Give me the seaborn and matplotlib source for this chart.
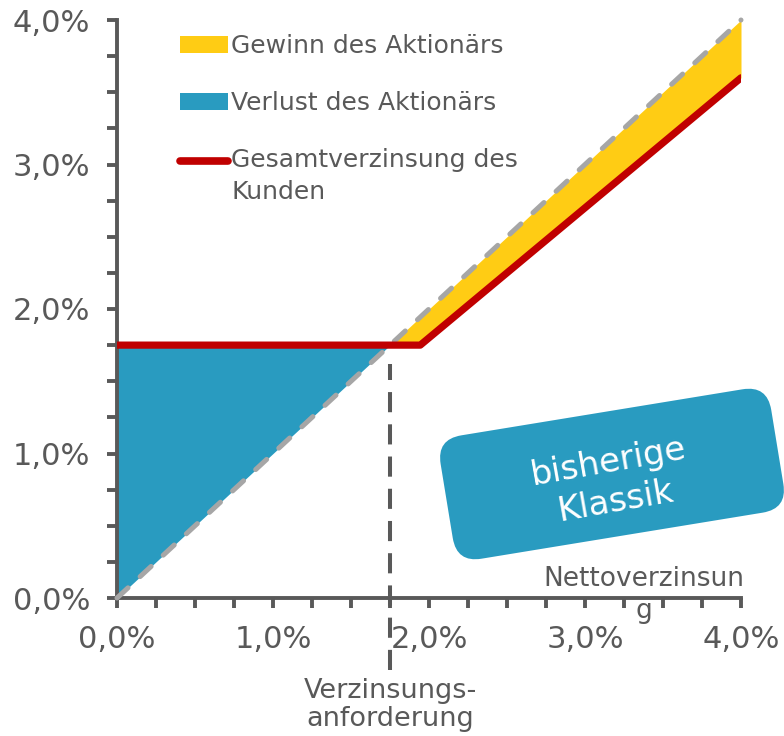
import matplotlib
matplotlib.use("Agg")
import matplotlib.pyplot as plt
import seaborn as sns
import pandas as pd
from matplotlib.patches import Patch, FancyBboxPatch
from matplotlib.lines import Line2D
from matplotlib.transforms import Affine2D
from matplotlib.ticker import MultipleLocator, FixedLocator

# ---- data (in %) ----
netto = [0.0, 1.75, 1.944, 4.0]          # Nettoverzinsung
kunde = [1.75, 1.75, 1.75, 3.6]          # Gesamtverzinsung des Kunden
anforderung = 1.75                        # Verzinsungsanforderung
tick_vals = [0, 1, 2, 3, 4]
tick_labels = ["0,0%", "1,0%", "2,0%", "3,0%", "4,0%"]
legend_labels = ["Gewinn des Aktionärs", "Verlust des Aktionärs", "Gesamtverzinsung des\nKunden"]

YELLOW = "#FFCC14"
BLUE = "#299BC0"
RED = "#C00000"
GRAY = "#A6A6A6"
TXT = "#595959"

sns.set_theme(style="white")
plt.rcParams["font.family"] = ["DejaVu Sans"]

df = pd.DataFrame({"netto": netto, "kunde": kunde})

fig = plt.figure(figsize=(7.84, 7.36), dpi=100)
ax = fig.add_axes([117 / 784, 138 / 736, 624 / 784, 578 / 736])

# fills
ax.fill_between(netto[:2], netto[:2], kunde[:2], color=BLUE, lw=0, zorder=1)
ax.fill_between(netto[1:], kunde[1:], netto[1:], color=YELLOW, lw=0, zorder=1)

# diagonal (Nettoverzinsung itself)
sns.lineplot(data=df, x="netto", y="netto", ax=ax, color=GRAY, linewidth=3.6,
             linestyle=(0, (3.0, 3.3)), solid_capstyle="round", dash_capstyle="round",
             zorder=3, clip_on=False)
# customer line
sns.lineplot(data=df, x="netto", y="kunde", ax=ax, color=RED, linewidth=5.2,
             solid_capstyle="round", zorder=4)

# requirement line
ax.axvline(anforderung, ymin=-0.125, ymax=0.405, color=TXT, lw=2.9,
           linestyle=(0, (5, 3)), clip_on=False, zorder=5)

ax.set_xlim(0, 4)
ax.set_ylim(0, 4)
ax.xaxis.set_major_locator(FixedLocator(tick_vals))
ax.yaxis.set_major_locator(FixedLocator(tick_vals))
ax.set_xticklabels(tick_labels)
ax.set_yticklabels(tick_labels)
ax.xaxis.set_minor_locator(MultipleLocator(0.25))
ax.yaxis.set_minor_locator(MultipleLocator(0.25))
ax.tick_params(which="both", direction="out", length=7.5, width=2.8, color=TXT,
               bottom=True, left=True)
ax.tick_params(which="major", labelsize=22, labelcolor=TXT, pad=12)
ax.tick_params(axis="y", which="major", pad=12)
for s in ["top", "right"]:
    ax.spines[s].set_visible(False)
for s in ["left", "bottom"]:
    ax.spines[s].set_color(TXT)
    ax.spines[s].set_linewidth(2.8)
ax.set_xlabel("")
ax.set_ylabel("")

# axis annotations
ax.text(0.845, 0.005, "Nettoverzinsun\ng", transform=ax.transAxes, ha="center",
        va="center", fontsize=19, color=TXT, linespacing=1.3, clip_on=False, zorder=6)
fig.text(390 / 784, 1 - 705 / 736, "Verzinsungs-\nanforderung", ha="center", va="center",
         fontsize=19.5, color=TXT, linespacing=1.15)

# legend
handles = [Patch(facecolor=YELLOW, edgecolor="none"),
           Patch(facecolor=BLUE, edgecolor="none"),
           Line2D([0], [0], color=RED, lw=5.5, solid_capstyle="round")]
leg = ax.legend(handles, legend_labels, loc="upper left",
                bbox_to_anchor=(180 / 784, 1 - 34 / 736), bbox_transform=fig.transFigure,
                frameon=False, fontsize=18, handlelength=1.9, handleheight=0.7,
                handletextpad=0.15, labelspacing=1.32, borderpad=0, borderaxespad=0)
for t in leg.get_texts():
    t.set_color(TXT)
    t.set_linespacing(1.4)
red_h = leg.legend_handles[2]
red_h.set_ydata([v + 11 for v in red_h.get_ydata()])

# decorative rotated box
tr = Affine2D().rotate_deg_around(6.12, 2.62, 9.3) + fig.dpi_scale_trans
box = FancyBboxPatch((6.12 - 1.675, 2.62 - 0.625), 3.35, 1.25,
                     boxstyle="round,pad=0,rounding_size=0.25",
                     facecolor=BLUE, edgecolor="none", transform=tr)
fig.add_artist(box)
fig.text(612 / 784, 1 - 482 / 736, "bisherige\nKlassik", rotation=10, rotation_mode="anchor",
         ha="center", va="center", fontsize=24.5, color="white", linespacing=1.25)

fig.savefig("out.png", dpi=100)
